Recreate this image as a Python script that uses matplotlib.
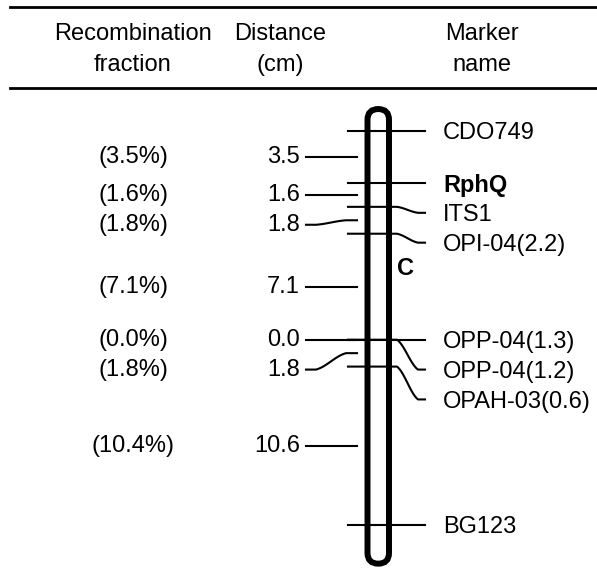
import numpy as np
import matplotlib
matplotlib.use("Agg")
import matplotlib.pyplot as plt
from matplotlib.patches import FancyBboxPatch
from matplotlib.lines import Line2D

plt.rcParams['font.family'] = ['Liberation Sans', 'DejaVu Sans']

# linkage map data
markers = ["CDO749", "RphQ", "ITS1", "OPI-04(2.2)", "OPP-04(1.3)",
           "OPP-04(1.2)", "OPAH-03(0.6)", "BG123"]
bold_marker = "RphQ"
intervals_cm = [3.5, 1.6, 1.8, 7.1, 0.0, 1.8, 10.6]
rec_fraction_pct = [3.5, 1.6, 1.8, 7.1, 0.0, 1.8, 10.4]
group_name = "C"
headers = [("Recombination", "fraction"), ("Distance", "(cm)"), ("Marker", "name")]

W, H = 597, 569
PX = 14.93      # pixels per cM
TOP = 130.7     # pixel row of first marker
FS = 17

fig = plt.figure(figsize=(W / 100, H / 100), dpi=100)
ax = fig.add_axes([0, 0, 1, 1])
ax.set_xlim(0, W)
ax.set_ylim((H - TOP) / PX, -TOP / PX)
ax.axis("off")

pos = np.concatenate([[0], np.cumsum(intervals_cm)])
mids = (pos[:-1] + pos[1:]) / 2


def spread(vals, gap=2.0):
    out = []
    for v in vals:
        out.append(v if not out else max(v, out[-1] + gap))
    return np.array(out)


def bend(x0, x1, x2, x3, y0, y1):
    # flat - step - flat
    t = np.linspace(0, 1, 20)
    s = 0.5 * t + 0.5 * (1 - np.cos(np.pi * t)) / 2
    xs = np.concatenate([[x0], x1 + (x2 - x1) * t, [x3]])
    ys = np.concatenate([[y0], y0 + (y1 - y0) * s, [y1]])
    return xs, ys


mark_y = spread(pos)
dist_y = spread(mids)

# chromosome
chrom = FancyBboxPatch((367.5, pos[0] - 1.45), 21.5, pos[-1] - pos[0] + 4.05,
                       boxstyle="round,pad=0,rounding_size=10.75",
                       mutation_aspect=1 / PX, fc="none", ec="black", lw=4.3, zorder=3)
ax.add_patch(chrom)

# markers on the right
for name, p, ly in zip(markers, pos, mark_y):
    if abs(ly - p) < 0.15:
        ax.plot([348, 425], [p, p], color="black", lw=1.5)
    else:
        xs, ys = bend(348, 397, 418, 425, p, ly)
        ax.plot(xs, ys, color="black", lw=1.5)
    ax.text(443, ly + 0.15, name, fontsize=FS, va="center", ha="left",
            fontweight="bold" if name == bold_marker else "normal")

# distances on the left
for d, r, m, ly in zip(intervals_cm, rec_fraction_pct, mids, dist_y):
    if abs(ly - m) < 0.15:
        ax.plot([306, 357], [m, m], color="black", lw=1.5)
    else:
        xs, ys = bend(306, 316, 346, 357, ly, m)
        ax.plot(xs, ys, color="black", lw=1.5)
    ax.text(300, ly, "%.1f" % d, fontsize=FS, va="center", ha="right")
    ax.text(133, ly, "(%.1f%%)" % r, fontsize=FS, va="center", ha="center")

ax.text(405, 9.26, group_name, fontsize=FS, fontweight="bold", va="center", ha="center")

# header
for (l1, l2), cx in zip(headers, [132.5, 280, 482]):
    fig.text(cx / W, 1 - 40 / H, l1, fontsize=FS, ha="center", va="baseline")
    fig.text(cx / W, 1 - 71 / H, l2, fontsize=FS, ha="center", va="baseline")
for yy in [7, 88]:
    fig.add_artist(Line2D([10 / W, 1], [1 - yy / H, 1 - yy / H], color="black",
                          lw=2.0, transform=fig.transFigure))

fig.savefig("out.png", dpi=100)
